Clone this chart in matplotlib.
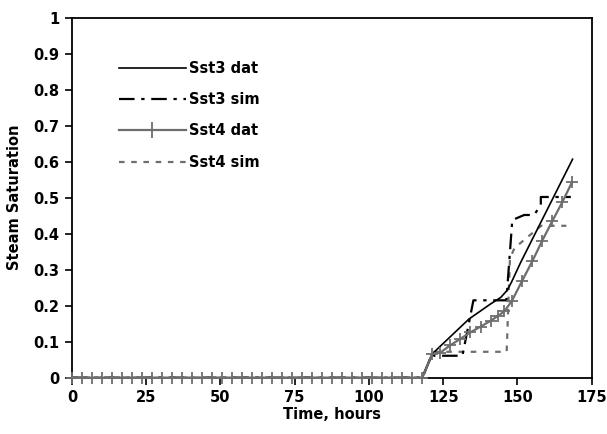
import numpy as np
import matplotlib
matplotlib.use("Agg")
import matplotlib.pyplot as plt
from matplotlib.ticker import FuncFormatter

plt.rcParams['font.family'] = ['DejaVu Sans']
plt.rcParams['font.weight'] = 'bold'

# Sst4 dat (measured, with + markers)
t4_dat = [0, 3.4, 6.7, 10.1, 13.5, 16.9, 20.2, 23.6, 27, 30.3, 33.7, 37.1, 40.5, 43.8,
          47.2, 50.6, 53.9, 57.3, 60.7, 64.1, 67.4, 70.8, 74.2, 77.5, 80.9, 84.3, 87.7,
          91, 94.4, 97.8, 101.1, 104.5, 107.9, 111.3, 114.6, 118,
          121.3, 124.1, 127.4, 130.8, 134.2, 137.6, 141, 143.5, 145.6, 148.2, 151.6,
          155, 158.4, 161.7, 165.1, 168.4]
s4_dat = [0] * 36 + [0.066, 0.070, 0.090, 0.108, 0.126, 0.142, 0.158, 0.172, 0.184,
                     0.214, 0.269, 0.323, 0.381, 0.434, 0.487, 0.543]

# Sst3 dat (measured, solid)
t3_dat = [0, 118, 121.3, 133.7, 141, 144.4, 146.5, 148, 151.1, 168.6]
s3_dat = [0, 0, 0.066, 0.163, 0.205, 0.223, 0.242, 0.265, 0.32, 0.607]

# Sst3 sim (dash-dot)
t3_sim = [0, 118, 121.3, 122, 131.5, 135.2, 146.3, 148.3, 152.3, 155.6, 157.9, 157.9, 168]
s3_sim = [0, 0, 0.066, 0.061, 0.061, 0.215, 0.215, 0.438, 0.452, 0.452, 0.479, 0.502, 0.502]

# Sst4 sim (dotted)
t4_sim = [0, 118, 121.3, 122, 146.4, 147.5, 149, 158, 166.5]
s4_sim = [0, 0, 0.066, 0.072, 0.072, 0.33, 0.36, 0.422, 0.422]

fig = plt.figure(figsize=(6.07, 4.34), dpi=100)
ax = fig.add_axes([0.1186, 0.1297, 0.856, 0.8295])

ax.plot(t3_dat, s3_dat, color='black', lw=1.2, label='Sst3 dat', zorder=3)
ax.plot(t3_sim, s3_sim, color='black', lw=1.6, dashes=(7, 3, 1.5, 3), label='Sst3 sim', zorder=3)
ax.plot(t4_dat, s4_dat, color='#6e6e6e', lw=1.6, marker='+', ms=9, mew=1.3,
        label='Sst4 dat', zorder=4, clip_on=False)
ax.plot(t4_sim, s4_sim, color='#6e6e6e', lw=1.6, dashes=(2.5, 3), label='Sst4 sim', zorder=2)

ax.set_xlim(0, 175)
ax.set_ylim(0, 1)
ax.set_xticks(np.arange(0, 176, 25))
ax.set_yticks(np.arange(0, 1.01, 0.1))
ax.yaxis.set_major_formatter(FuncFormatter(lambda v, p: f'{v:g}'))
ax.tick_params(direction='out', length=5, width=1.2, labelsize=10.5, pad=4)
for sp in ax.spines.values():
    sp.set_linewidth(1.3)

ax.set_xlabel('Time, hours', fontsize=10.5, fontweight='bold', labelpad=1)
ax.set_ylabel('Steam Saturation', fontsize=10.5, fontweight='bold', labelpad=8)

leg = ax.legend(loc='upper left', bbox_to_anchor=(0.065, 0.917), frameon=False,
                fontsize=10.5, handlelength=4.6, handletextpad=0.2, labelspacing=1.12,
                markerscale=1.0)
leg.legend_handles[2].set_markevery([1])
leg.legend_handles[2].set_markersize(11)

fig.savefig('out.png', dpi=100)
